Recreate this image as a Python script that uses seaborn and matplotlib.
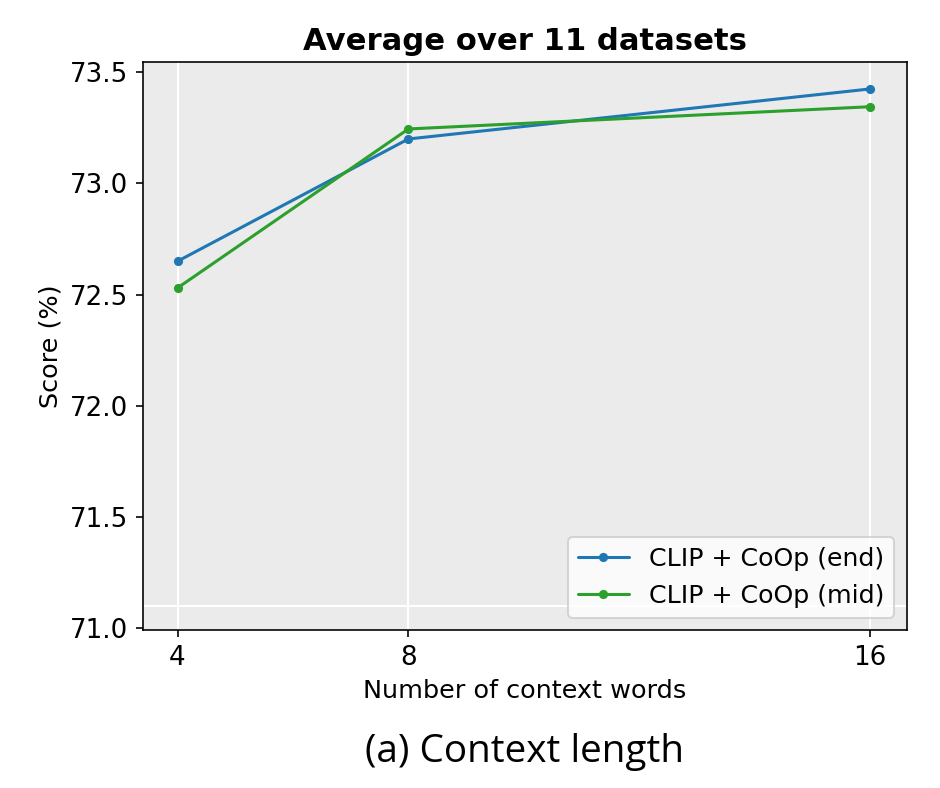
import matplotlib
matplotlib.use("Agg")
import matplotlib.pyplot as plt
import seaborn as sns
import pandas as pd

context_words = [4, 8, 16]
end_scores = [72.65, 73.20, 73.425]
mid_scores = [72.53, 73.245, 73.345]
series_names = ["CLIP + CoOp (end)", "CLIP + CoOp (mid)"]
xticks = [4, 8, 16]
yticks = [71.0, 71.5, 72.0, 72.5, 73.0, 73.5]

df = pd.DataFrame({
    "x": context_words * 2,
    "y": end_scores + mid_scores,
    "method": [series_names[0]] * 3 + [series_names[1]] * 3,
})

sns.set_style("darkgrid", {"axes.facecolor": "#EBEBEB", "grid.color": "white",
                           "axes.edgecolor": "black", "xtick.bottom": True,
                           "ytick.left": True, "text.color": "black",
                           "axes.labelcolor": "black", "xtick.color": "black",
                           "ytick.color": "black"})
plt.rcParams['font.family'] = ['DejaVu Sans']

fig = plt.figure(figsize=(6.4, 788 / 146.875), dpi=146.875)
ax = fig.add_axes([0.152, 0.200, 0.813, 0.721])

sns.lineplot(data=df, x="x", y="y", hue="method", marker="o", markersize=4.5,
             markeredgewidth=0, linewidth=1.5,
             palette=["#1f77b4", "#2ca02c"], ax=ax)

ax.grid(False)
ax.grid(axis="x", color="white", linewidth=1)
ax.axhline(71.1, color="white", linewidth=1, zorder=0.5)
ax.set_xticks(xticks)
ax.set_xticklabels([str(t) for t in xticks])
ax.set_yticks(yticks)
ax.set_yticklabels([f"{t:.1f}" for t in yticks])
ax.set_xlim(3.4, 16.64)
ax.set_ylim(70.99, 73.545)
ax.tick_params(axis="both", labelsize=12.8, length=3.5, width=0.8, color="black", direction="out")
for s in ax.spines.values():
    s.set_color("black")
    s.set_linewidth(0.8)
ax.set_xlabel("Number of context words", fontsize=12.5)
ax.set_ylabel("Score (%)", fontsize=12.5)
ax.set_title("Average over 11 datasets", fontsize=15, fontweight="bold", pad=6)
leg = ax.legend(loc="lower right", fontsize=12.4, title=None, frameon=True,
                borderaxespad=0.5)
leg.get_frame().set_facecolor("white")
leg.get_frame().set_alpha(0.8)

fig.text(0.558, 0.033, "(a) Context length", fontsize=19, family=["Open Sans", "DejaVu Sans"],
         ha="center", va="baseline")

fig.savefig("out.png", dpi=146.875, facecolor="white")
